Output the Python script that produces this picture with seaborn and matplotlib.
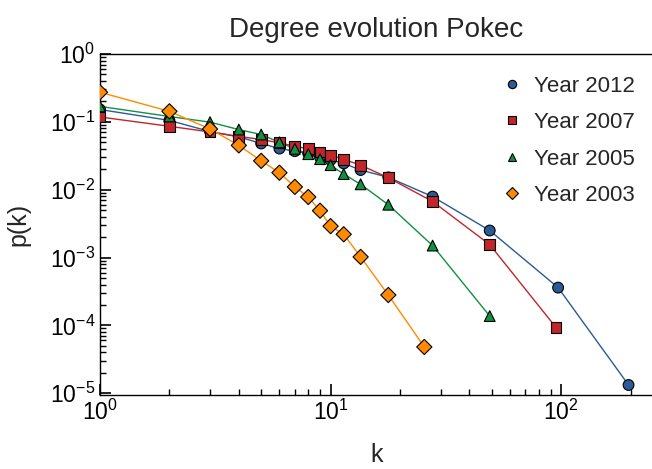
import numpy as np
import pandas as pd
import matplotlib
matplotlib.use("Agg")
import matplotlib.pyplot as plt
from matplotlib.ticker import NullFormatter, FixedLocator
import seaborn as sns

sns.set_style("ticks")
plt.rcParams["font.family"] = ["Liberation Sans", "DejaVu Sans"]
plt.rcParams["mathtext.fontset"] = "custom"
plt.rcParams["mathtext.rm"] = "Liberation Sans"
plt.rcParams["mathtext.it"] = "Liberation Sans:italic"

# data
years = ["Year 2012", "Year 2007", "Year 2005", "Year 2003"]

k_2012 = [1, 2, 3, 4, 5, 6, 7, 8, 9, 10, 11.4, 13.5, 17.8, 27.7, 49, 97, 196]
p_2012 = [0.152, 0.105, 0.072, 0.060, 0.048, 0.0404, 0.037, 0.034, 0.030,
          0.0274, 0.0244, 0.0195, 0.0152, 0.0079, 0.0025, 3.6e-4, 1.32e-5]

k_2007 = [1, 2, 3, 4, 5, 6, 7, 8, 9, 10, 11.4, 13.5, 17.8, 27.7, 49, 95]
p_2007 = [0.118, 0.086, 0.071, 0.061, 0.055, 0.049, 0.0437, 0.040, 0.036,
          0.0323, 0.028, 0.023, 0.015, 0.0067, 0.00155, 9.3e-5]

k_2005 = [1, 2, 3, 4, 5, 6, 7, 8, 9, 10, 11.4, 13.5, 17.8, 27.7, 49]
p_2005 = [0.169, 0.12, 0.099, 0.077, 0.065, 0.050, 0.040, 0.0334, 0.0282,
          0.023, 0.017, 0.012, 0.006, 0.0015, 1.37e-4]

k_2003 = [1, 2, 3, 4, 5, 6, 7, 8, 9, 10, 11.4, 13.5, 17.8, 25.5]
p_2003 = [0.273, 0.143, 0.0785, 0.045, 0.0266, 0.0178, 0.011, 0.0078, 0.0049,
          0.0029, 0.0022, 0.00102, 2.8e-4, 4.8e-5]

frames = []
for name, k, p in zip(years, [k_2012, k_2007, k_2005, k_2003],
                      [p_2012, p_2007, p_2005, p_2003]):
    frames.append(pd.DataFrame({"k": k, "p": p, "year": name}))
df = pd.concat(frames, ignore_index=True)

palette = {"Year 2012": "#2a5b97", "Year 2007": "#c0262a",
           "Year 2005": "#13903f", "Year 2003": "#ff8a00"}
markers = {"Year 2012": "o", "Year 2007": "s",
           "Year 2005": "^", "Year 2003": "D"}

fig = plt.figure(figsize=(6.52, 4.69), dpi=100)
ax = fig.add_axes([0.1534, 0.1578, 0.848, 0.727])

sns.lineplot(data=df, x="k", y="p", hue="year", palette=palette,
             hue_order=years, linewidth=1.0, legend=False, ax=ax,
             estimator=None, sort=False)

sns.scatterplot(data=df, x="k", y="p", hue="year", style="year",
                palette=palette, markers=markers, hue_order=years,
                style_order=years, s=60, edgecolor="black", linewidth=0.8,
                ax=ax, zorder=3)

ax.set_xscale("log")
ax.set_yscale("log")

# log minor ticks, 2..9 in every decade
minor_x = [m * 10.0 ** d for d in range(0, 3) for m in range(2, 10)]
minor_y = [m * 10.0 ** d for d in range(-6, 0) for m in range(2, 10)]
ax.xaxis.set_minor_locator(FixedLocator(minor_x))
ax.yaxis.set_minor_locator(FixedLocator(minor_y))
ax.xaxis.set_minor_formatter(NullFormatter())
ax.yaxis.set_minor_formatter(NullFormatter())

ax.set_xlim(1, 250)
ax.set_ylim(9.4e-6, 1)

ax.set_axisbelow(False)
ax.tick_params(axis="both", which="major", direction="in", length=8,
               width=1.2, labelsize=16.5, bottom=True, left=True,
               top=False, right=False, color="black", labelcolor="black")
ax.tick_params(axis="both", which="minor", direction="in", length=4,
               width=1.0, bottom=True, left=True, top=False, right=False,
               color="black")
for s in ax.spines.values():
    s.set_linewidth(1)
    s.set_color("black")

ax.set_title("Degree evolution Pokec", fontsize=20, pad=12)
ax.set_xlabel("k", fontsize=18, labelpad=13)
ax.set_ylabel("p(k)", fontsize=18, labelpad=14)

leg = ax.legend(loc="upper right", bbox_to_anchor=(0.967, 0.936),
                frameon=False, fontsize=16, labelspacing=0.69,
                handlelength=0.8, handletextpad=0.6, borderaxespad=0,
                borderpad=0)
for h in leg.legend_handles:
    h.set_markersize(6)
    h.set_markeredgecolor("black")
    h.set_markeredgewidth(0.8)

fig.savefig("out.png", dpi=100)
